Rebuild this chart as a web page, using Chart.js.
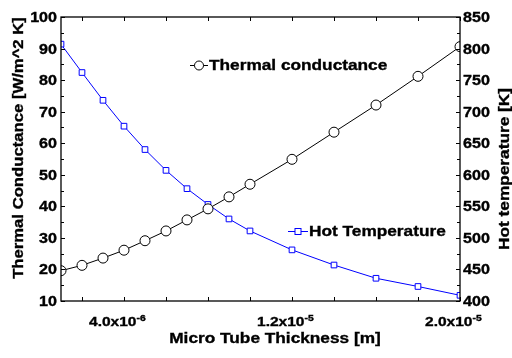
<!DOCTYPE html>
<html>
<head>
<meta charset="utf-8">
<script src="https://cdn.jsdelivr.net/npm/chart.js@4"></script>
<style>
  body { margin: 0; background: #fff; }
  #wrap { width: 512px; height: 358px; }
</style>
</head>
<body>
<div id="wrap"><canvas id="myChart" width="512" height="358"></canvas></div>
<script>
'use strict';
// thickness in metres
let thickness = [1e-6, 2e-6, 3e-6, 4e-6, 5e-6, 6e-6, 7e-6, 8e-6, 9e-6, 1e-5, 1.2e-5, 1.4e-5, 1.6e-5, 1.8e-5, 2e-5];
let conductance = [19.6, 21.3, 23.6, 26.1, 29.1, 32.2, 35.7, 39.2, 43.0, 47.0, 54.9, 63.5, 72.1, 81.2, 90.6];
let hotTemp = [807, 762, 718, 677, 640, 607, 578, 553, 530, 511, 481, 457, 436, 423, 409];

let leftTicks = [10, 20, 30, 40, 50, 60, 70, 80, 90, 100];
let rightTicks = [400, 450, 500, 550, 600, 650, 700, 750, 800, 850];
let xTickValues = [4e-6, 1.2e-5, 2e-5];
let xTickBase = ['4.0x10', '1.2x10', '2.0x10'];
let xTickExp = ['-6', '-5', '-5'];

const SX = 1.15; // text in the picture is a bit wider than Arial
const FONT = '"Liberation Sans", Arial, sans-serif';

function wideText(ctx, txt, x, y, size, align, rot) {
  ctx.save();
  ctx.translate(x, y);
  if (rot) ctx.rotate(rot);
  ctx.scale(SX, 1);
  ctx.font = 'bold ' + size + 'px ' + FONT;
  ctx.textAlign = align;
  ctx.textBaseline = 'alphabetic';
  ctx.fillStyle = '#000';
  ctx.strokeStyle = '#000';
  ctx.lineWidth = 0.35;
  ctx.fillText(txt, 0, 0);
  ctx.strokeText(txt, 0, 0); // a bit heavier, like the picture
  let w = ctx.measureText(txt).width * SX;
  ctx.restore();
  return w;
}

const framePlugin = {
  id: 'frame',
  afterDraw(chart) {
    const ctx = chart.ctx;
    const a = chart.chartArea;
    const x = chart.scales.x, y = chart.scales.y, y1 = chart.scales.y1;
    ctx.save();
    ctx.strokeStyle = '#000';
    ctx.lineWidth = 1.3;
    ctx.strokeRect(a.left, a.top, a.right - a.left, a.bottom - a.top);
    ctx.lineWidth = 1;
    ctx.beginPath();
    // x ticks, bottom and top, pointing in
    for (let v = 2e-6; v <= 2e-5 + 1e-9; v += 2e-6) {
      let px = Math.round(x.getPixelForValue(v)) + 0.5;
      ctx.moveTo(px, a.bottom); ctx.lineTo(px, a.bottom - 4);
      ctx.moveTo(px, a.top); ctx.lineTo(px, a.top + 4);
    }
    // left axis ticks
    for (let v = 10; v <= 100; v += 5) {
      let py = Math.round(y.getPixelForValue(v)) + 0.5;
      let len = v % 10 === 0 ? 4 : 3;
      ctx.moveTo(a.left, py); ctx.lineTo(a.left + len, py);
    }
    // right axis ticks
    for (let v = 400; v <= 850; v += 25) {
      let py = Math.round(y1.getPixelForValue(v)) + 0.5;
      let len = v % 50 === 0 ? 4 : 3;
      ctx.moveTo(a.right, py); ctx.lineTo(a.right - len, py);
    }
    ctx.stroke();

    // tick labels
    for (let i = 0; i < leftTicks.length; i++) {
      let py = y.getPixelForValue(leftTicks[i]);
      wideText(ctx, String(leftTicks[i]), a.left - 4, py + 5, 14, 'right');
    }
    for (let i = 0; i < rightTicks.length; i++) {
      let py = y1.getPixelForValue(rightTicks[i]);
      wideText(ctx, String(rightTicks[i]), a.right + 3, py + 5, 14, 'left');
    }
    for (let i = 0; i < xTickValues.length; i++) {
      let px = x.getPixelForValue(xTickValues[i]);
      let w = wideText(ctx, xTickBase[i], px - 35, a.bottom + 25, 13.5, 'left');
      wideText(ctx, xTickExp[i], px - 35 + w, a.bottom + 20, 9, 'left');
    }

    // axis titles
    wideText(ctx, 'Micro Tube Thickness [m]', 275, 343, 15, 'center');
    wideText(ctx, 'Thermal Conductance [W/m^2 K]', 23, 148, 14.5, 'center', -Math.PI / 2);
    wideText(ctx, 'Hot temperature [K]', 509, 169, 15, 'center', -Math.PI / 2);

    // legends inside the plot
    ctx.lineWidth = 1;
    ctx.strokeStyle = '#000';
    ctx.beginPath(); ctx.moveTo(190, 65.5); ctx.lineTo(208, 65.5); ctx.stroke();
    ctx.beginPath(); ctx.arc(199, 65.5, 4.5, 0, Math.PI * 2);
    ctx.fillStyle = '#fff'; ctx.fill(); ctx.stroke();
    wideText(ctx, 'Thermal conductance', 209, 70, 15, 'left');

    ctx.strokeStyle = '#0000ff';
    ctx.lineWidth = 1;
    ctx.beginPath(); ctx.moveTo(288, 231.5); ctx.lineTo(308, 231.5); ctx.stroke();
    ctx.fillStyle = '#fff';
    ctx.fillRect(295, 228.5, 6, 6); ctx.strokeRect(295, 228.5, 6, 6);
    wideText(ctx, 'Hot Temperature', 309, 236, 15, 'left');
    ctx.restore();
  }
};

let ctx = document.getElementById('myChart').getContext('2d');
let myChart = new Chart(ctx, {
  type: 'line',
  data: {
    labels: thickness,
    datasets: [{
      label: 'Thermal conductance',
      data: thickness.map((t, i) => ({ x: t, y: conductance[i] })),
      yAxisID: 'y',
      borderColor: '#000',
      borderWidth: 1,
      pointStyle: 'circle',
      pointRadius: 5,
      pointBackgroundColor: '#fff',
      pointBorderColor: '#000',
      pointBorderWidth: 1,
      tension: 0
    }, {
      label: 'Hot Temperature',
      data: thickness.map((t, i) => ({ x: t, y: hotTemp[i] })),
      yAxisID: 'y1',
      borderColor: '#0000ff',
      borderWidth: 1,
      pointStyle: 'rect',
      pointRadius: 4,
      pointBackgroundColor: '#fff',
      pointBorderColor: '#0000ff',
      pointBorderWidth: 1,
      tension: 0
    }]
  },
  options: {
    responsive: false,
    animation: false,
    events: [],
    layout: { padding: { top: 17, left: 0, right: 0, bottom: 0 } },
    plugins: { legend: { display: false }, tooltip: { enabled: false } },
    scales: {
      x: {
        type: 'linear', min: 1e-6, max: 2e-5,
        grid: { display: false }, border: { display: false },
        ticks: { display: false },
        afterFit(s) { s.height = 57; }
      },
      y: {
        position: 'left', min: 10, max: 100,
        grid: { display: false }, border: { display: false },
        ticks: { display: false },
        afterFit(s) { s.width = 61; }
      },
      y1: {
        position: 'right', min: 400, max: 850,
        grid: { display: false }, border: { display: false },
        ticks: { display: false },
        afterFit(s) { s.width = 52; }
      }
    }
  },
  plugins: [framePlugin]
});
</script>
</body>
</html>
